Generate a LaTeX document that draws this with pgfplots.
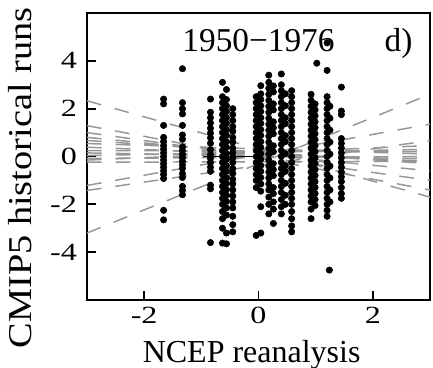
\documentclass[border=0pt]{standalone}
\usepackage{pgfplots}
\pgfplotsset{compat=1.18}
\usepackage{graphicx}
\usepackage{fontspec}
\setmainfont{Liberation Serif}
\definecolor{lgray}{RGB}{150,150,150}
\begin{document}
\begin{tikzpicture}
\begin{axis}[
  at={(0,0)}, anchor=south west,
  scale only axis, width=257.25pt, height=215.25pt,
  xmin=-3, xmax=3, ymin=-6, ymax=6,
  axis line style={line width=1.4pt},
  tick align=inside, tick pos=left, major tick length=7pt,
  every tick/.style={black, line width=1.4pt},
  xtick={-2,0,2},
  xticklabels={\scalebox{1.3}[1]{-2},\scalebox{1.3}[1]{0},\scalebox{1.3}[1]{2}},
  ytick={-4,-2,0,2,4},
  yticklabels={\scalebox{1.3}[1]{-4},\scalebox{1.3}[1]{-2},\scalebox{1.3}[1]{0},\scalebox{1.3}[1]{2},\scalebox{1.3}[1]{4}},
  tick label style={font=\fontsize{18.5}{20}\selectfont},
  yticklabel style={xshift=-4pt},
  xticklabel style={yshift=-2pt},
  xlabel={NCEP reanalysis},
  xlabel style={at={(axis description cs:0.48,0)}, anchor=base, yshift=-47pt, font=\fontsize{24}{26}\selectfont},
  ylabel={\scalebox{1.15}[1]{CMIP5 historical runs}},
  ylabel style={at={(axis description cs:0,0.425)}, anchor=base, yshift=41.25pt, font=\fontsize{25}{27}\selectfont},
  clip=true,
]
% scatter of runs
\addplot[only marks, mark=*, mark size=2.4pt, black] coordinates {
(-1.66,2.40)(-1.66,2.20)(-1.66,1.30)(-1.66,0.80)(-1.66,0.62)(-1.66,0.45)(-1.66,0.30)(-1.66,0.15)(-1.66,0.00)(-1.66,-0.15)(-1.66,-0.30)(-1.66,-0.45)(-1.66,-0.60)(-1.66,-0.75)(-1.66,-0.92)(-1.66,-2.25)(-1.66,-2.65)
(-1.33,3.67)(-1.33,2.25)(-1.33,2.00)(-1.33,1.78)(-1.33,1.30)(-1.33,0.90)(-1.33,0.72)(-1.33,0.40)(-1.33,0.25)(-1.33,0.10)(-1.33,-0.05)(-1.33,-0.20)(-1.33,-0.35)(-1.33,-0.50)(-1.33,-0.72)(-1.33,-0.88)(-1.33,-1.25)(-1.33,-1.42)(-1.33,-1.60)
(-0.84,2.40)(-0.84,1.85)(-0.84,1.62)(-0.84,1.40)(-0.84,1.18)(-0.84,0.98)(-0.84,0.78)(-0.84,0.55)(-0.84,0.28)(-0.84,0.08)(-0.84,-0.08)(-0.84,-0.25)(-0.84,-0.45)(-0.84,-0.62)(-0.84,-1.20)(-0.84,-1.35)(-0.84,-3.60)
(-0.63,3.10)(-0.63,2.50)(-0.63,2.25)(-0.63,2.00)(-0.63,1.75)(-0.63,1.50)(-0.63,1.25)(-0.63,1.00)(-0.63,0.75)(-0.63,0.50)(-0.63,0.25)(-0.63,0.00)(-0.63,-0.25)(-0.63,-0.50)(-0.63,-0.75)(-0.63,-1.00)(-0.63,-1.25)(-0.63,-1.50)(-0.63,-1.75)(-0.63,-2.00)(-0.63,-2.30)(-0.63,-2.60)(-0.63,-3.00)(-0.63,-3.62)
(-0.56,2.80)(-0.56,2.38)(-0.56,2.12)(-0.56,1.88)(-0.56,1.62)(-0.56,1.38)(-0.56,1.12)(-0.56,0.88)(-0.56,0.62)(-0.56,0.38)(-0.56,0.12)(-0.56,-0.12)(-0.56,-0.38)(-0.56,-0.62)(-0.56,-0.88)(-0.56,-1.12)(-0.56,-1.38)(-0.56,-1.62)(-0.56,-1.88)(-0.56,-2.15)(-0.56,-2.45)(-0.56,-3.20)(-0.56,-3.65)
(-0.45,2.00)(-0.45,1.75)(-0.45,1.50)(-0.45,1.25)(-0.45,1.05)(-0.45,0.80)(-0.45,0.60)(-0.45,0.35)(-0.45,0.15)(-0.45,-0.05)(-0.45,-0.25)(-0.45,-0.50)(-0.45,-0.70)(-0.45,-0.95)(-0.45,-1.15)(-0.45,-1.40)(-0.45,-1.65)(-0.45,-1.90)(-0.45,-2.15)(-0.45,-2.50)(-0.45,-2.85)(-0.45,-3.15)
(-0.04,2.50)(-0.04,2.25)(-0.04,2.00)(-0.04,1.75)(-0.04,1.50)(-0.04,1.25)(-0.04,1.00)(-0.04,0.75)(-0.04,0.50)(-0.04,0.25)(-0.04,0.00)(-0.04,-0.25)(-0.04,-0.50)(-0.04,-0.75)(-0.04,-1.00)(-0.04,-1.30)(-0.04,-3.30)
(0.04,2.96)(0.04,2.62)(0.04,2.38)(0.04,2.12)(0.04,1.88)(0.04,1.62)(0.04,1.38)(0.04,1.12)(0.04,0.88)(0.04,0.62)(0.04,0.38)(0.04,0.12)(0.04,-0.12)(0.04,-0.38)(0.04,-0.62)(0.04,-0.88)(0.04,-1.15)(0.04,-1.45)(0.04,-2.10)(0.04,-3.20)
(0.18,3.40)(0.18,3.10)(0.18,2.85)(0.18,2.60)(0.18,2.35)(0.18,2.10)(0.18,1.85)(0.18,1.60)(0.18,1.35)(0.18,1.10)(0.18,0.85)(0.18,0.60)(0.18,0.35)(0.18,0.10)(0.18,-0.15)(0.18,-0.40)(0.18,-0.65)(0.18,-0.90)(0.18,-1.15)(0.18,-1.40)(0.18,-1.70)(0.18,-2.00)(0.18,-2.40)
(0.26,2.95)(0.26,2.70)(0.26,2.20)(0.26,1.95)(0.26,1.45)(0.26,1.20)(0.26,0.95)(0.26,0.45)(0.26,0.20)(0.26,-0.30)(0.26,-0.55)(0.26,-0.80)(0.26,-1.30)(0.26,-1.55)(0.26,-1.90)(0.26,-2.20)(0.26,-2.80)
(0.40,3.45)(0.40,3.00)(0.40,2.75)(0.40,2.50)(0.40,2.25)(0.40,2.00)(0.40,1.75)(0.40,1.50)(0.40,1.25)(0.40,1.00)(0.40,0.75)(0.40,0.50)(0.40,0.25)(0.40,0.00)(0.40,-0.25)(0.40,-0.50)(0.40,-0.75)(0.40,-1.00)(0.40,-1.25)(0.40,-1.50)(0.40,-1.80)(0.40,-2.10)(0.40,-2.40)
(0.47,2.62)(0.47,2.12)(0.47,1.62)(0.47,1.37)(0.47,0.87)(0.47,0.62)(0.47,0.12)(0.47,-0.38)(0.47,-0.62)(0.47,-1.12)(0.47,-1.62)(0.47,-2.00)
(0.58,2.75)(0.58,2.50)(0.58,2.25)(0.58,2.00)(0.58,1.75)(0.58,1.50)(0.58,1.25)(0.58,1.00)(0.58,0.75)(0.58,0.50)(0.58,0.25)(0.58,0.00)(0.58,-0.25)(0.58,-0.50)(0.58,-0.75)(0.58,-1.00)(0.58,-1.25)(0.58,-1.50)(0.58,-1.75)(0.58,-2.00)(0.58,-2.30)(0.58,-2.60)(0.58,-2.90)(0.58,-3.15)
(0.92,2.60)(0.92,2.35)(0.92,2.10)(0.92,1.85)(0.92,1.60)(0.92,1.35)(0.92,1.10)(0.92,0.85)(0.92,0.60)(0.92,0.35)(0.92,0.10)(0.92,-0.15)(0.92,-0.40)(0.92,-0.65)(0.92,-0.90)(0.92,-1.15)(0.92,-1.40)(0.92,-1.65)(0.92,-1.90)(0.92,-2.20)(0.92,-2.60)
(1.02,3.90)(0.99,2.20)(0.99,1.95)(0.99,1.70)(0.99,1.45)(0.99,1.20)(0.99,0.95)(0.99,0.70)(0.99,0.45)(0.99,0.20)(0.99,-0.05)(0.99,-0.30)(0.99,-0.55)(0.99,-0.80)(0.99,-1.05)(0.99,-1.30)(0.99,-1.55)(0.99,-1.80)(0.99,-2.05)
(1.20,4.75)(1.20,3.60)(1.20,2.50)(1.20,2.25)(1.20,2.00)(1.20,1.75)(1.20,1.50)(1.20,1.25)(1.20,1.00)(1.20,0.75)(1.20,0.50)(1.20,0.25)(1.20,0.00)(1.20,-0.25)(1.20,-0.50)(1.20,-0.75)(1.20,-1.00)(1.20,-1.25)(1.20,-1.50)(1.20,-1.75)(1.20,-2.00)(1.20,-2.25)(1.20,-2.50)(1.24,-4.75)
(1.25,2.10)(1.25,1.60)(1.25,1.10)(1.25,0.60)(1.25,0.10)(1.25,-0.40)(1.25,-0.90)(1.25,-1.40)(1.25,-1.90)
(1.45,2.90)(1.45,1.90)(1.45,1.75)(1.45,0.75)(1.45,0.55)(1.45,0.35)(1.45,0.15)(1.45,-0.05)(1.45,-0.25)(1.45,-0.45)(1.45,-0.65)(1.45,-0.85)(1.45,-1.05)(1.45,-1.30)(1.45,-1.55)(1.45,-1.75)
};
% model regression lines
\addplot[lgray, line width=1.1pt, dash pattern=on 11pt off 10.5pt] coordinates {(-3,2.33) (3,-1.70)};
\addplot[lgray, line width=1.1pt, dash pattern=on 11pt off 10.5pt] coordinates {(-3,1.29) (3,-1.40)};
\addplot[lgray, line width=1.1pt, dash pattern=on 11pt off 10.5pt] coordinates {(-3,1.00) (3,-1.00)};
\addplot[lgray, line width=1.1pt, dash pattern=on 11pt off 10.5pt] coordinates {(-3,0.80) (3,-0.60)};
\addplot[lgray, line width=1.1pt, dash pattern=on 11pt off 10.5pt] coordinates {(-3,0.67) (3,-0.30)};
\addplot[lgray, line width=1.1pt, dash pattern=on 11pt off 10.5pt] coordinates {(-3,0.54) (3,0.10)};
\addplot[lgray, line width=1.1pt, dash pattern=on 11pt off 10.5pt] coordinates {(-3,0.39) (3,-0.20)};
\addplot[lgray, line width=1.1pt, dash pattern=on 11pt off 10.5pt] coordinates {(-3,0.25) (3,0.20)};
\addplot[lgray, line width=1.1pt, dash pattern=on 11pt off 10.5pt] coordinates {(-3,0.15) (3,-0.10)};
\addplot[lgray, line width=1.1pt, dash pattern=on 11pt off 10.5pt] coordinates {(-3,0.04) (3,0.30)};
\addplot[lgray, line width=1.1pt, dash pattern=on 11pt off 10.5pt] coordinates {(-3,-0.08) (3,0.00)};
\addplot[lgray, line width=1.1pt, dash pattern=on 11pt off 10.5pt] coordinates {(-3,-0.15) (3,0.46)};
\addplot[lgray, line width=1.1pt, dash pattern=on 11pt off 10.5pt] coordinates {(-3,-0.24) (3,-0.20)};
\addplot[lgray, line width=1.1pt, dash pattern=on 11pt off 10.5pt] coordinates {(-3,-1.21) (3,1.35)};
\addplot[lgray, line width=1.1pt, dash pattern=on 11pt off 10.5pt] coordinates {(-3,-1.42) (3,0.67)};
\addplot[lgray, line width=1.1pt, dash pattern=on 11pt off 10.5pt] coordinates {(-3,-3.20) (3,2.60)};
% ensemble line
\addplot[black, line width=1.3pt] coordinates {(-0.97,0.0) (-0.05,0.0)};
\node[anchor=base, font=\fontsize{25}{27}\selectfont] at (axis cs:0,4.4) {1950−1976};
\node[anchor=base, font=\fontsize{25}{27}\selectfont] at (axis cs:2.45,4.4) {d)};
\end{axis}
\pgfresetboundingbox
\path[use as bounding box] (-65.25pt,-51pt) rectangle (259.5pt,225pt);
\end{tikzpicture}
\end{document}
